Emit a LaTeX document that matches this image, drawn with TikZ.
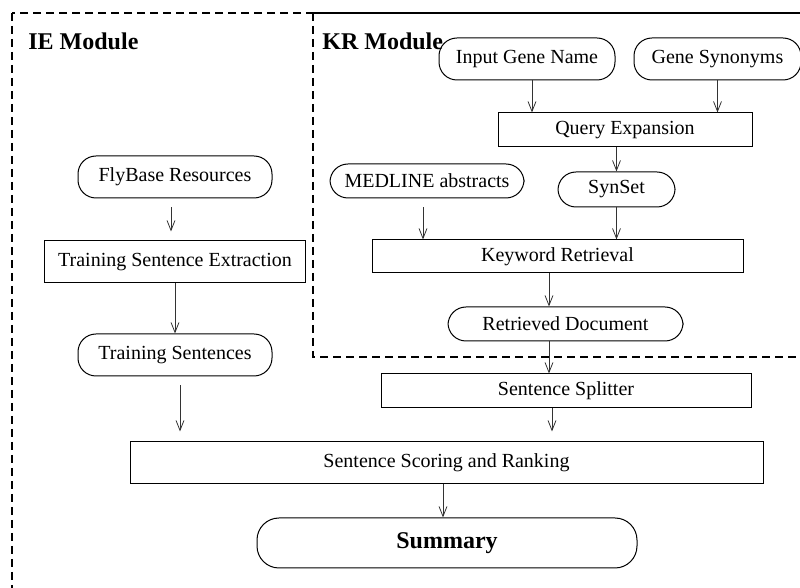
\documentclass[tikz,border=0pt]{standalone}
\usepackage{fontspec}
\setmainfont{Liberation Serif}
\usepackage{tikz}
\usetikzlibrary{positioning, arrows.meta}

\begin{document}
\begin{tikzpicture}
    [
        x=0.5pt, y=-0.5pt,
        pill/.style={rectangle, rounded corners=9pt, draw, line width=0.5pt,
                     inner sep=0pt, minimum height=#1},
        pill/.default=21pt,
        proc/.style={rectangle, draw, line width=0.5pt, inner sep=0pt,
                     minimum height=#1},
        proc/.default=17pt,
        module/.style={draw, line width=0.6pt, dash pattern=on 4pt off 2.5pt},
        modlabel/.style={anchor=west, font=\large\bfseries, inner sep=0pt},
        arr/.style={-{Straight Barb[length=5pt, width=4pt]}, line width=0.4pt,
                    black!80}
    ]
    \useasboundingbox (0,0) rectangle (800,588);
    \clip (0,0) rectangle (800,588);
    \draw [module] (12,13) rectangle (830,620);
    \draw [module] (313,13) rectangle (830,357);
    \node (ielabel) [modlabel] at (28,41) {IE Module};
    \node (krlabel) [modlabel] at (322,41) {KR Module};

    \node (fly) [pill, minimum width=97pt] at (175,177) {FlyBase Resources};
    \node (tse) [proc=21pt, minimum width=130.5pt, below=21pt of fly]
        {Training Sentence Extraction};
    \node (ts) [pill, minimum width=97pt, below=25pt of tse] {Training Sentences};

    \node (input) [pill, minimum width=88pt] at (527,59) {Input Gene Name};
    \node (syn) [pill, minimum width=83.5pt, right=9pt of input] {Gene Synonyms};
    \node (qexp) [proc, minimum width=127pt] at (625,130) {Query Expansion};
    \node (medline) [pill=17pt, minimum width=97pt] at (427,181) {MEDLINE abstracts};
    \node (synset) [pill=17.5pt, minimum width=58.5pt] at (616.5,189.5) {SynSet};
    \node (kret) [proc=16.5pt, minimum width=185.5pt] at (557.5,256.5)
        {Keyword Retrieval};
    \node (rdoc) [pill=17pt, minimum width=117.5pt] at (565.5,324)
        {Retrieved Document};
    \node (split) [proc, minimum width=185pt] at (566,391) {Sentence Splitter};
    \node (score) [proc=21pt, minimum width=316.5pt] at (446.5,463)
        {Sentence Scoring and Ranking};
    \node (summ) [pill=25pt, rounded corners=11pt, minimum width=190pt,
                  font=\large\bfseries] at (447,543) {Summary};

    \draw [arr, shorten <=4.5pt, shorten >=4.5pt] ([xshift=-2pt]fly.south)
        -- ([xshift=-2pt]fly.south |- tse.north);
    \draw [arr] (tse.south) -- (ts.north);
    \draw [arr, shorten <=4.5pt, shorten >=5pt] ([xshift=2.5pt]ts.south)
        -- ([xshift=2.5pt]ts.south |- score.north);
    \draw [arr] ([xshift=2.5pt]input.south)
        -- ([xshift=2.5pt]input.south |- qexp.north);
    \draw [arr] (syn.south) -- (syn.south |- qexp.north);
    \draw [arr] (qexp.south -| synset.north) -- (synset.north);
    \draw [arr, shorten <=4.5pt] ([xshift=-2pt]medline.south)
        -- ([xshift=-2pt]medline.south |- kret.north);
    \draw [arr] (synset.south) -- (synset.south |- kret.north);
    \draw [arr] ([xshift=-4.25pt]kret.south)
        -- ([xshift=-4.25pt]kret.south |- rdoc.north);
    \draw [arr] ([xshift=-4.25pt]kret.south |- rdoc.south)
        -- ([xshift=-4.25pt]kret.south |- split.north);
    \draw [arr, shorten >=5pt] ([xshift=-7pt]split.south)
        -- ([xshift=-7pt]split.south |- score.north);
    \draw [arr] ([xshift=-1.75pt]score.south)
        -- ([xshift=-1.75pt]score.south |- summ.north);
\end{tikzpicture}
\end{document}
